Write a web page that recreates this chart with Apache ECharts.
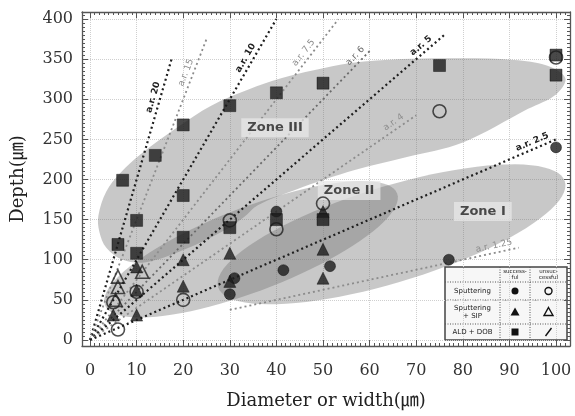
<!DOCTYPE html>
<html>
<head>
<meta charset="utf-8">
<script src="https://cdn.jsdelivr.net/npm/echarts@6/dist/echarts.min.js"></script>
<style>
  html, body { margin: 0; padding: 0; background: #fff; }
  #chart { width: 575px; height: 416px; }
</style>
</head>
<body>
<div id="chart"></div>
<script>
// ---- data (diameter um, depth um) ----
const sputteringOk = [[30, 57], [31, 77], [40, 160], [41.5, 87], [51.5, 92], [77, 100], [100, 240]];
const sputteringFail = [[5, 47], [6, 13], [10, 60], [20, 50], [30, 149], [40, 138], [50, 170], [75, 285], [100, 352]];
const sipOk = [[5, 31], [10, 31], [10, 62], [10, 91], [20, 67], [20, 100], [30, 73], [30, 108], [50, 77], [50, 113], [50, 160]];
const sipFail = [[5.5, 50], [6, 66], [6, 79], [11.2, 85]];
const aldOk = [[6, 119], [7, 199], [10, 108], [10, 149], [14, 230], [20, 128], [20, 180], [20, 268], [30, 140],
  [30, 292], [40, 150], [40, 308], [50, 150], [50, 320], [75, 342], [100, 330], [100, 355]];

// aspect ratio guide lines: depth = ratio * diameter
const arRatios = [20, 15, 10, 7.5, 6, 5, 4, 2.5, 1.25];
const arNames = ['a.r. 20', 'a.r. 15', 'a.r. 10', 'a.r. 7.5', 'a.r. 6', 'a.r. 5', 'a.r. 4', 'a.r. 2.5', 'a.r. 1.25'];
const arFromX = [0, 0, 0, 0, 0, 0, 0, 0, 30];
const arToX = [17.5, 25, 40, 53.3, 60, 76, 70, 100, 92];
const arLabelX = [15, 22, 34.7, 47, 58, 72, 66, 95.5, 87];

// zones
const zone3Outline = [[1.8, 155], [3.5, 185], [6.5, 208], [11, 232], [19, 266], [26, 292], [34, 312], [41, 326],
  [48, 336], [56, 345], [67, 350], [80, 351], [91, 349], [98, 342], [102, 326], [100, 306], [94, 288], [80, 246],
  [68, 228], [57, 212], [44, 187], [36, 168], [33, 153], [29, 137], [20, 112], [12, 97], [7, 100], [3.5, 115], [2, 135]];
const zone2Tips = [[3.2, 43.5], [65.9, 182.6]];
const zone1Tips = [[27.5, 65.8], [101.9, 197.5]];
const zoneNames = ['Zone III', 'Zone II', 'Zone I'];
const zoneLabelAt = [[39.7, 264.6], [55.6, 186.3], [84.3, 160.2]];

// axes: frame range is a little wider than the labelled range
const xRange = [-1.72, 103];
const yRange = [-7.5, 408.7];
const xTickValues = [0, 10, 20, 30, 40, 50, 60, 70, 80, 90, 100];
const yTickValues = [0, 50, 100, 150, 200, 250, 300, 350, 400];
const xMinorValues = [];
for (let v = 0; v <= 102; v += 1) xMinorValues.push(v);
const yMinorValues = [];
for (let v = 0; v <= 405; v += 5) yMinorValues.push(v);

const darkRatios = [20, 10, 5, 2.5];
const zoneFill = 'rgba(110,110,110,0.38)';
const serif = "'DejaVu Serif', 'Noto Sans CJK KR', serif";

let chart = echarts.init(document.getElementById('chart'));

function ellipse(api, tips, halfW) {
  let a = api.coord(tips[0]), b = api.coord(tips[1]);
  let cx = (a[0] + b[0]) / 2, cy = (a[1] + b[1]) / 2;
  let half = Math.hypot(b[0] - a[0], b[1] - a[1]) / 2;
  let ux = (b[0] - a[0]) / (2 * half), uy = (b[1] - a[1]) / (2 * half);
  let pts = [];
  for (let k = 0; k < 90; k++) {
    let t = k / 90 * Math.PI * 2;
    let c = Math.cos(t) * half, s = Math.sin(t) * halfW;
    pts.push([cx + c * ux - s * uy, cy + c * uy + s * ux]);
  }
  return pts;
}

function zoneSeries(getPoints, smooth) {
  return {
    type: 'custom', silent: true, z: 1,
    data: [[0, 0]],
    renderItem: (params, api) => ({
      type: 'polygon',
      shape: { points: getPoints(api), smooth: smooth },
      style: { fill: zoneFill, stroke: null }
    })
  };
}

function scatter(name, data, symbol, size, filled) {
  return {
    name: name, type: 'scatter', data: data, symbol: symbol, symbolSize: size, z: 4,
    itemStyle: filled
      ? { color: '#1c1c1c', borderColor: '#000', borderWidth: 0.5 }
      : { color: 'rgba(0,0,0,0)', borderColor: '#222', borderWidth: 1.6 }
  };
}

let frameLine = { show: true, onZero: false, lineStyle: { color: '#555', width: 1.3 } };
let noLine = { show: false, onZero: false };
let split = { show: true, lineStyle: { color: '#cfcfcf', type: 'dotted', width: 1 } };

// one axis for the long ticks, one for the short ones, on every side
function axis(range, position, values, len, extra) {
  return Object.assign({
    type: 'value', min: range[0], max: range[1], position: position,
    axisLine: len > 4 ? frameLine : noLine,
    axisTick: { show: true, inside: true, length: len, customValues: values, lineStyle: { color: '#555', width: 1 } },
    axisLabel: { show: false },
    splitLine: { show: false }
  }, extra || {});
}

// table legend geometry (pixels)
const tb = { cols: [445, 500, 530, 567], rows: [267, 282, 300, 324, 340] };
let cx2 = (tb.cols[1] + tb.cols[2]) / 2, cx3 = (tb.cols[2] + tb.cols[3]) / 2;
let rc = [1, 2, 3].map(i => (tb.rows[i] + tb.rows[i + 1]) / 2);
let tableEls = [
  { type: 'rect', shape: { x: tb.cols[0], y: tb.rows[0], width: tb.cols[3] - tb.cols[0], height: tb.rows[4] - tb.rows[0] },
    style: { fill: '#f7f7f7', stroke: '#444', lineWidth: 1.5 } }
];
[1, 2].forEach(i => tableEls.push({ type: 'line', shape: { x1: tb.cols[i], y1: tb.rows[0], x2: tb.cols[i], y2: tb.rows[4] },
  style: { stroke: '#555', lineWidth: 1, lineDash: [1, 1.5] } }));
[1, 2, 3].forEach(i => tableEls.push({ type: 'line', shape: { x1: tb.cols[0], y1: tb.rows[i], x2: tb.cols[3], y2: tb.rows[i] },
  style: { stroke: '#555', lineWidth: 1, lineDash: [1, 1.5] } }));
let small = (t, x, y, fs) => ({ type: 'text', x: x, y: y,
  style: { text: t, fontSize: fs, fontFamily: 'DejaVu Sans', fill: '#222', align: 'center', verticalAlign: 'middle', lineHeight: fs + 1 } });
tableEls.push(small('success-\nful', cx2, (tb.rows[0] + tb.rows[1]) / 2, 5.5));
tableEls.push(small('unsuc-\ncessful', cx3, (tb.rows[0] + tb.rows[1]) / 2, 5.5));
tableEls.push(small('Sputtering', (tb.cols[0] + tb.cols[1]) / 2, rc[0], 7));
tableEls.push(small('Sputtering\n+ SIP', (tb.cols[0] + tb.cols[1]) / 2, rc[1], 7));
tableEls.push(small('ALD + DOB', (tb.cols[0] + tb.cols[1]) / 2, rc[2], 7));
tableEls.push({ type: 'circle', shape: { cx: cx2, cy: rc[0], r: 3.5 }, style: { fill: '#111' } });
tableEls.push({ type: 'circle', shape: { cx: cx3, cy: rc[0], r: 3.5 }, style: { fill: 'none', stroke: '#111', lineWidth: 1.4 } });
tableEls.push({ type: 'polygon', shape: { points: [[cx2, rc[1] - 4.5], [cx2 + 4.5, rc[1] + 3.5], [cx2 - 4.5, rc[1] + 3.5]] }, style: { fill: '#111' } });
tableEls.push({ type: 'polygon', shape: { points: [[cx3, rc[1] - 4.5], [cx3 + 4.5, rc[1] + 3.5], [cx3 - 4.5, rc[1] + 3.5]] }, style: { fill: 'none', stroke: '#111', lineWidth: 1.4 } });
tableEls.push({ type: 'rect', shape: { x: cx2 - 3.5, y: rc[2] - 3.5, width: 7, height: 7 }, style: { fill: '#111' } });
tableEls.push({ type: 'line', shape: { x1: cx3 - 3, y1: rc[2] + 4, x2: cx3 + 3, y2: rc[2] - 4 }, style: { stroke: '#111', lineWidth: 1.4 } });

let option = {
  backgroundColor: '#fff',
  animation: false,
  grid: { left: 82, right: 5, top: 12, bottom: 70, containLabel: false, outerBoundsMode: 'none' },
  xAxis: [
    axis(xRange, 'bottom', xTickValues, 6, {
      splitLine: split,
      axisLabel: { show: true, customValues: xTickValues, margin: 17, fontFamily: serif, fontSize: 16, color: '#333' },
      name: 'Diameter or width(㎛)', nameLocation: 'middle', nameGap: 46,
      nameTextStyle: { fontFamily: serif, fontSize: 18, color: '#222' }
    }),
    axis(xRange, 'bottom', xMinorValues, 3),
    axis(xRange, 'top', xTickValues, 6),
    axis(xRange, 'top', xMinorValues, 3)
  ],
  yAxis: [
    axis(yRange, 'left', yTickValues, 6, {
      splitLine: split,
      axisLabel: { show: true, customValues: yTickValues, margin: 9, fontFamily: serif, fontSize: 16, color: '#333' },
      name: 'Depth(㎛)', nameLocation: 'middle', nameGap: 55, nameRotate: 90,
      nameTextStyle: { fontFamily: serif, fontSize: 18, color: '#222' }
    }),
    axis(yRange, 'left', yMinorValues, 3),
    axis(yRange, 'right', yTickValues, 6),
    axis(yRange, 'right', yMinorValues, 3)
  ],
  graphic: [
    { type: 'group', children: tableEls, z: 10 }
  ],
  series: [
    zoneSeries(api => zone3Outline.map(p => api.coord(p)), 0.35),
    zoneSeries(api => ellipse(api, zone2Tips, 42), 0),
    zoneSeries(api => ellipse(api, zone1Tips, 48), 0),
    {
      type: 'custom', silent: true, z: 2,
      data: arRatios.map((r, i) => [arFromX[i], r, arToX[i], arLabelX[i], i]),
      renderItem: (params, api) => {
        let x0 = api.value(0), r = api.value(1), x1 = api.value(2), lx = api.value(3);
        let name = arNames[api.value(4)];
        let p0 = api.coord([x0, r * x0]), p1 = api.coord([x1, r * x1]), pl = api.coord([lx, r * lx]);
        let ang = Math.atan2(p0[1] - p1[1], p1[0] - p0[0]);
        let dark = darkRatios.indexOf(r) >= 0;
        let col = dark ? '#1e1e1e' : (r === 6 ? '#6a6a6a' : '#8c8c8c');
        return {
          type: 'group', children: [
            { type: 'line', shape: { x1: p0[0], y1: p0[1], x2: p1[0], y2: p1[1] },
              style: { stroke: col, lineWidth: dark ? 2.2 : 1.8, lineDash: [2, 3] } },
            { type: 'text', x: pl[0] - Math.sin(ang) * 7, y: pl[1] - Math.cos(ang) * 7, rotation: ang,
              style: { text: name, fontSize: 9, fontFamily: 'DejaVu Sans', fontWeight: dark ? 'bold' : 'normal',
                fill: col, align: 'center', verticalAlign: 'middle' } }
          ]
        };
      }
    },
    {
      type: 'scatter', silent: true, z: 3, symbolSize: 0,
      data: zoneLabelAt.map((p, i) => [p[0], p[1], i]),
      label: {
        show: true, position: 'inside', formatter: p => zoneNames[p.value[2]],
        fontFamily: 'DejaVu Sans', fontWeight: 'bold', fontSize: 13, color: '#222',
        backgroundColor: 'rgba(232,232,232,0.92)', padding: [3, 6]
      }
    },
    scatter('Sputtering successful', sputteringOk, 'circle', 11, true),
    scatter('Sputtering unsuccessful', sputteringFail, 'circle', 13, false),
    scatter('Sputtering + SIP successful', sipOk, 'triangle', 12, true),
    scatter('Sputtering + SIP unsuccessful', sipFail, 'triangle', 13, false),
    scatter('ALD + DOB successful', aldOk, 'rect', 12, true)
  ]
};

chart.setOption(option);
</script>
</body>
</html>
